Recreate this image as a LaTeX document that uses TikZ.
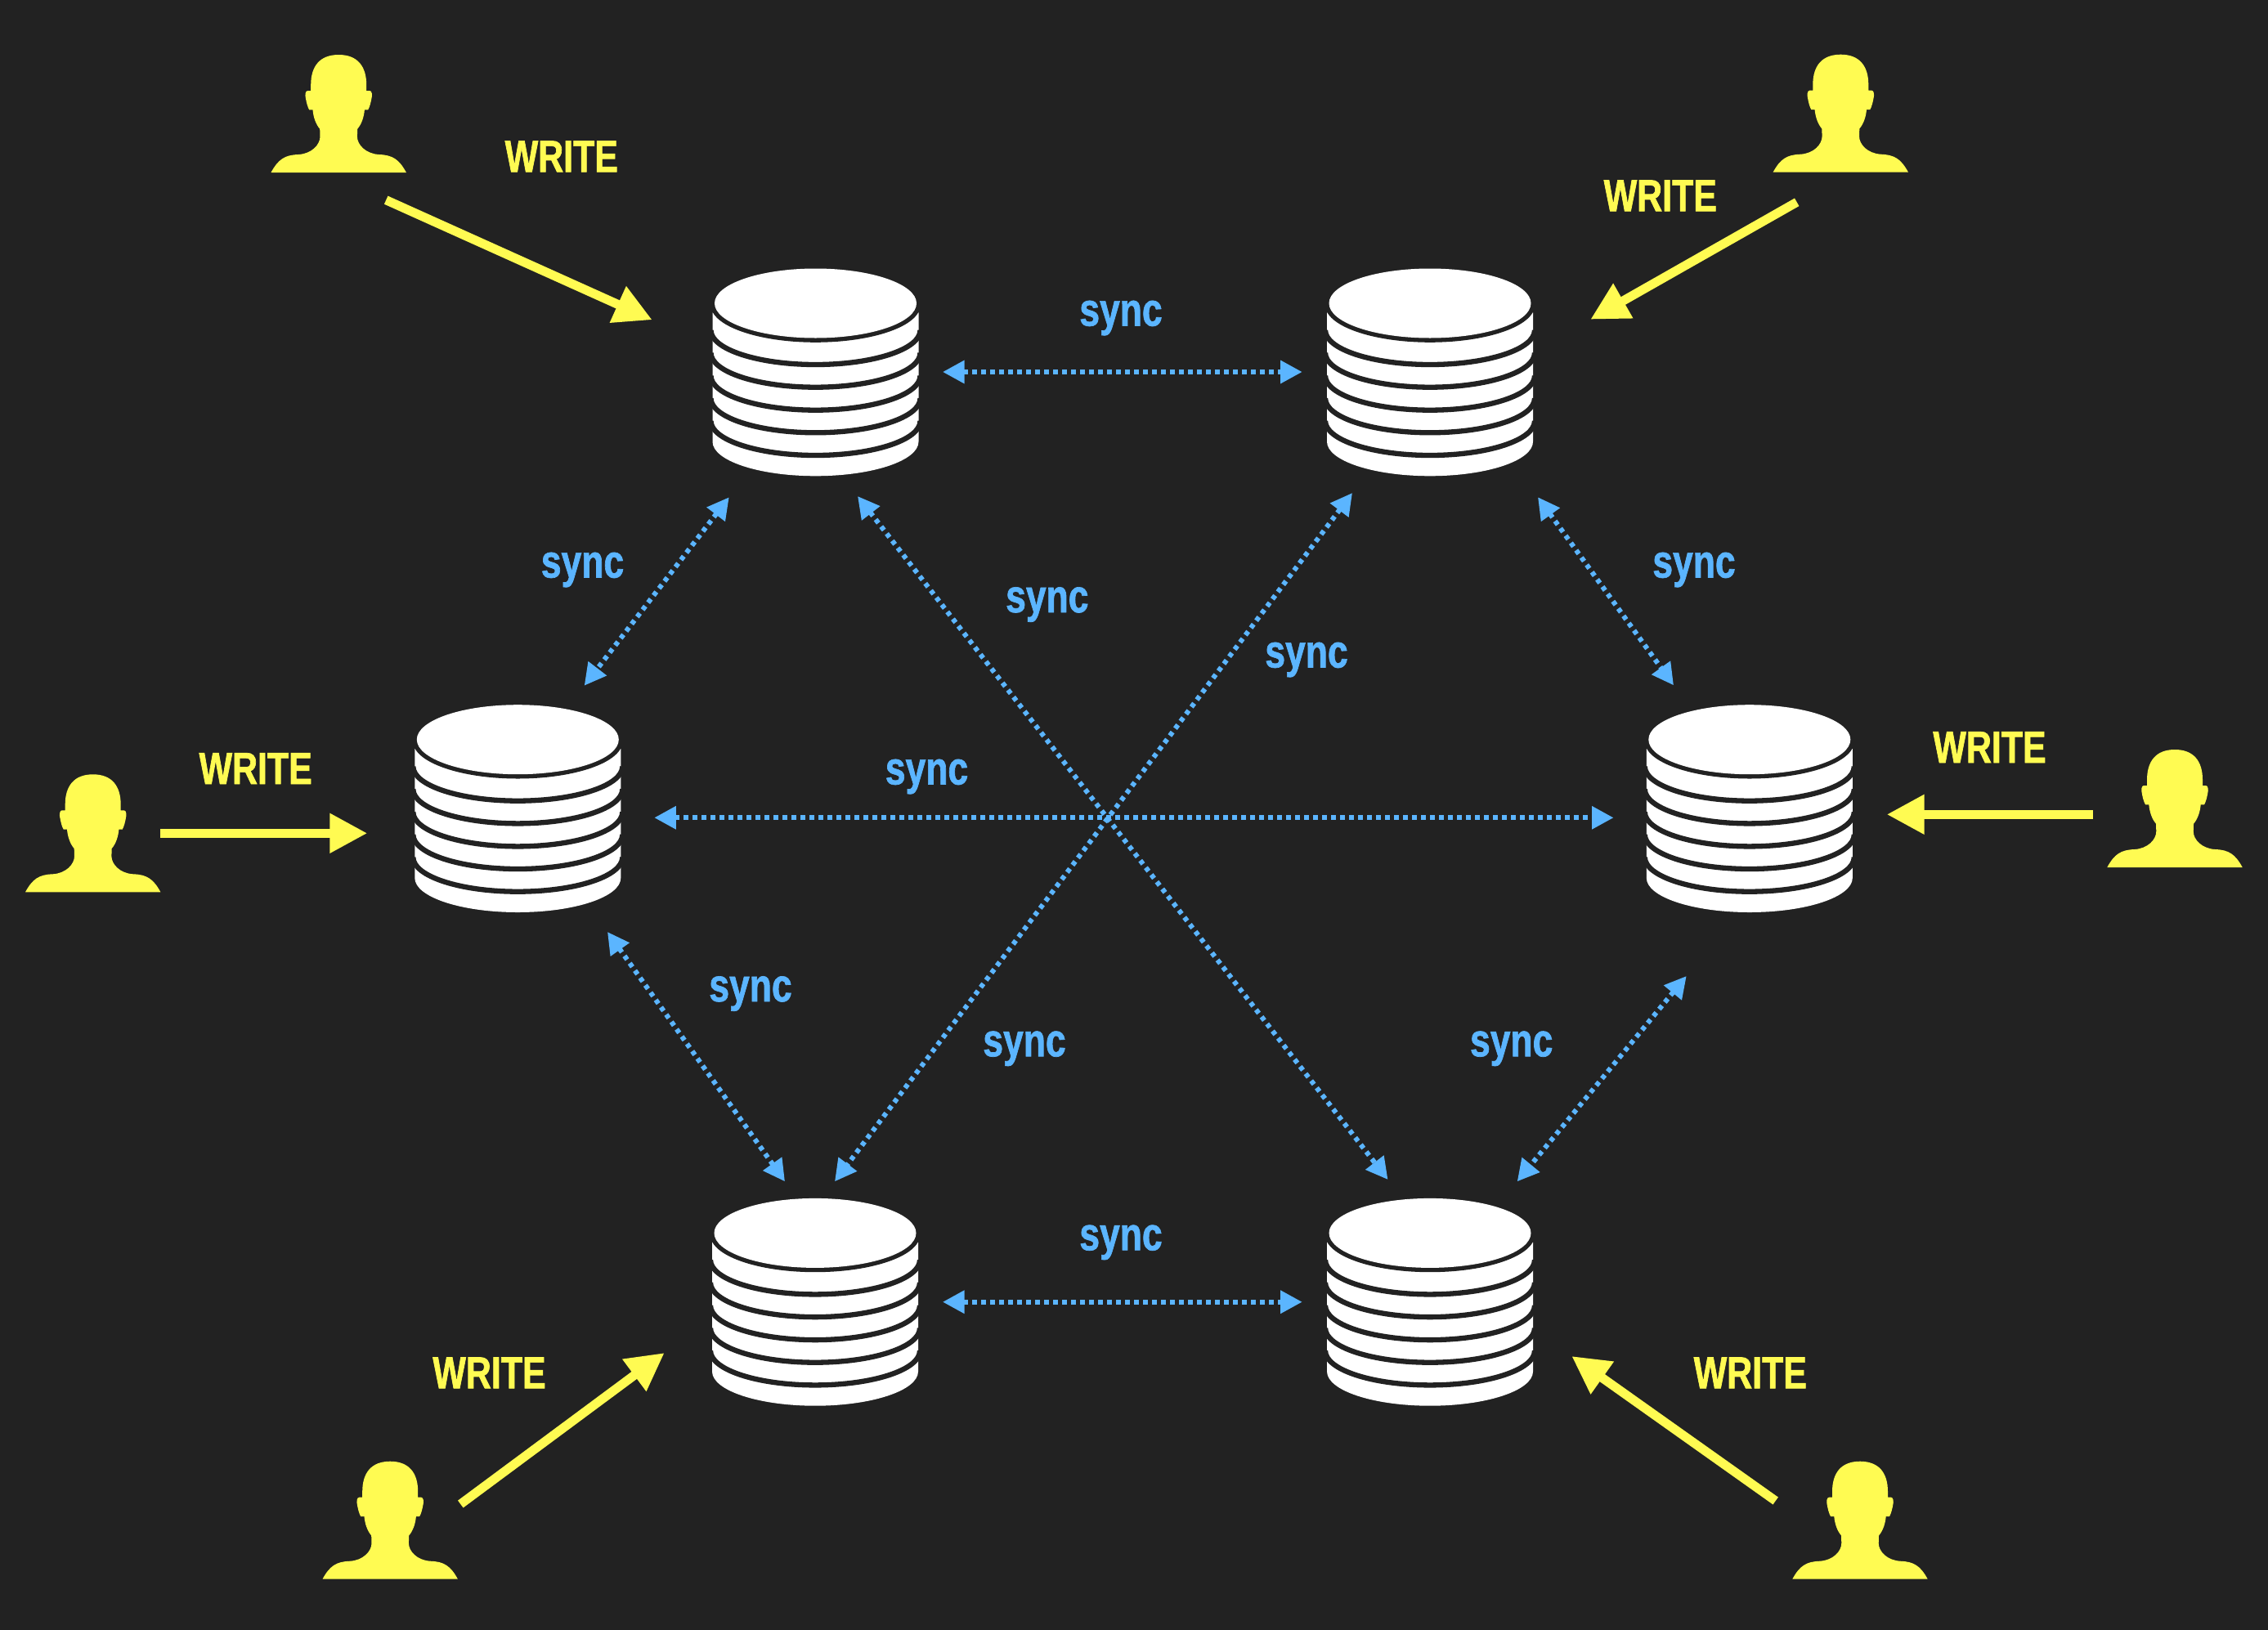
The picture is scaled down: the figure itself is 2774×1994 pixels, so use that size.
\documentclass[tikz,border=0pt]{standalone}
\usepackage{fontspec}
\setmainfont[BoldFeatures={FakeStretch=0.78,FakeBold=1.2}]{Liberation Sans}
\usetikzlibrary{arrows.meta,calc}
\definecolor{bgdark}{HTML}{222222}
\definecolor{uyellow}{HTML}{FFFB52}
\definecolor{syncblue}{HTML}{5BB5FF}
\tikzset{
  anchorbox/.style={inner sep=0pt,outer sep=0pt,draw=none},
  writearrow/.style={draw=uyellow,line width=11pt,-{Triangle[length=46pt,width=46pt,fill=uyellow]}},
  syncarrow/.style={draw=syncblue,line width=6pt,dash pattern=on 5.5pt off 5.5pt,
    {Triangle[length=26.5pt,width=27pt,fill=syncblue]}-{Triangle[length=26.5pt,width=27pt,fill=syncblue]}},
  writelabel/.style={anchor=base,inner sep=0pt,text=uyellow,font=\fontsize{55}{60}\selectfont\bfseries},
  synclabel/.style={anchor=base,inner sep=0pt,text=syncblue,font=\fontsize{57}{60}\selectfont\bfseries},
  dbslit/.style={draw=bgdark,line width=6.3pt},
}
\newcommand{\dbicon}[3]{%
  \node[anchorbox,minimum width=252pt,minimum height=254pt] (#1) at (#2,#3) {};
  \begin{scope}[shift={(#2,#3)}]
    \fill[white] (-126,-73) -- (-126,85) arc[start angle=180,end angle=0,x radius=126,y radius=42] -- (126,-73) -- cycle;
    \foreach \cy in {-51.3,-23.6,4.4,32,59.7}{
      \draw[dbslit] (-128,\cy) arc[start angle=180,end angle=0,x radius=128,y radius=42];
    }
    \fill[bgdark] (0,-81.8) ellipse[x radius=128,y radius=45.3];
    \fill[white] (0,-84.3) ellipse[x radius=123.5,y radius=42.5];
  \end{scope}
}
\newcommand{\usericon}[3]{%
  \node[anchorbox,minimum width=165.4pt,minimum height=144pt] (#1) at (#2,#3) {};
  \begin{scope}[shift={(#2,#3)}]
    \fill[uyellow] (0,-72)
      .. controls (23,-72) and (34,-58) .. (34,-35) -- (34,-28) -- (38,-28)
      .. controls (41,-28) and (41,-22) .. (40.5,-20)
      .. controls (39.5,-14) and (38,-8) .. (36,-4.7) -- (31.7,-4.7)
      .. controls (31,4) and (28,13) .. (23,18.7) -- (22.7,28)
      .. controls (22.7,38) and (33,49) .. (49,50)
      .. controls (66,50.5) and (74,56) .. (82.7,72)
      -- (-82.7,72)
      .. controls (-74,56) and (-66,50.5) .. (-49,50)
      .. controls (-33,49) and (-22.7,38) .. (-22.7,28)
      -- (-23,18.7) .. controls (-28,13) and (-31,4) .. (-31.7,-4.7)
      -- (-36,-4.7) .. controls (-38,-8) and (-39.5,-14) .. (-40.5,-20)
      .. controls (-41,-22) and (-41,-28) .. (-38,-28)
      -- (-34,-28) -- (-34,-35) .. controls (-34,-58) and (-23,-72) .. (0,-72) -- cycle;
  \end{scope}
}
\begin{document}
\begin{tikzpicture}[x=1pt,y=-1pt]
\useasboundingbox (0,0) rectangle (2774,1994);
\fill[bgdark] (0,0) rectangle (2774,1994);

\dbicon{dba}{997.5}{455.3}
\dbicon{dbb}{1749}{455.3}
\dbicon{dbc}{633.3}{989}
\dbicon{dbd}{2139.8}{989}
\dbicon{dbe}{997}{1592.7}
\dbicon{dbf}{1749}{1592.7}

\usericon{ua}{414.2}{139}
\usericon{ub}{2251.3}{138.7}
\usericon{uc}{113.7}{1019.3}
\usericon{ud}{2660}{989}
\usericon{ue}{477.2}{1859.7}
\usericon{uf}{2275}{1859.7}

% writes
\draw[writearrow] ($(ua)+(58,105.7)$) -- ($(dba)+(-199.8,-64)$);
\draw[writearrow] ($(ub)+(-53.6,108.6)$) -- ($(dbb)+(196.3,-64.6)$);
\draw[writearrow] ($(uc)+(82.3,0)$) -- ($(dbc)+(-184,30.3)$);
\draw[writearrow] ($(ud)+(-100,7.3)$) -- ($(dbd)+(167.9,7.3)$);
\draw[writearrow] ($(ue)+(86.1,-19.7)$) -- ($(dbe)+(-184.3,62.3)$);
\draw[writearrow] ($(uf)+(-103.3,-23.7)$) -- ($(dbf)+(173.3,66.3)$);

% syncs
\draw[syncarrow] ($(dba)+(155.5,-0.3)$) -- ($(dbb)+(-156.3,-0.3)$);
\draw[syncarrow] ($(dba)+(-105.8,153)$) -- ($(dbc)+(81.4,-150.3)$);
\draw[syncarrow] ($(dba)+(51.5,151.7)$) -- ($(dbf)+(-51.5,-149.7)$);
\draw[syncarrow] ($(dbb)+(-95,147.7)$) -- ($(dbe)+(24,-147.4)$);
\draw[syncarrow] ($(dbb)+(132,152.9)$) -- ($(dbd)+(-92.8,-150.7)$);
\draw[syncarrow] ($(dbc)+(167,11.3)$) -- ($(dbd)+(-166.3,11.3)$);
\draw[syncarrow] ($(dbc)+(109.7,151)$) -- ($(dbe)+(-37,-147.4)$);
\draw[syncarrow] ($(dbd)+(-77.1,205)$) -- ($(dbf)+(106.7,-147.4)$);
\draw[syncarrow] ($(dbe)+(156,0)$) -- ($(dbf)+(-156.3,0)$);

% labels
\node[writelabel] (wa) at (686.8,210.3) {WRITE};
\node[writelabel] (wb) at (2030.8,258.3) {WRITE};
\node[writelabel] (wc) at (312.7,959) {WRITE};
\node[writelabel] (wd) at (2433.5,933) {WRITE};
\node[writelabel] (we) at (598.5,1698.3) {WRITE};
\node[writelabel] (wf) at (2140.8,1698.3) {WRITE};

\node[synclabel] (sa) at (1371,398.5) {sync};
\node[synclabel] (sb) at (712.5,706.5) {sync};
\node[synclabel] (sc) at (1280.8,749) {sync};
\node[synclabel] (sd) at (2072,706.5) {sync};
\node[synclabel] (se) at (1598,816.5) {sync};
\node[synclabel] (sf) at (1133.5,959.5) {sync};
\node[synclabel] (sg) at (918,1225) {sync};
\node[synclabel] (sh) at (1253,1292.2) {sync};
\node[synclabel] (si) at (1848.7,1292.2) {sync};
\node[synclabel] (sj) at (1371,1529.3) {sync};
\end{tikzpicture}
\end{document}
